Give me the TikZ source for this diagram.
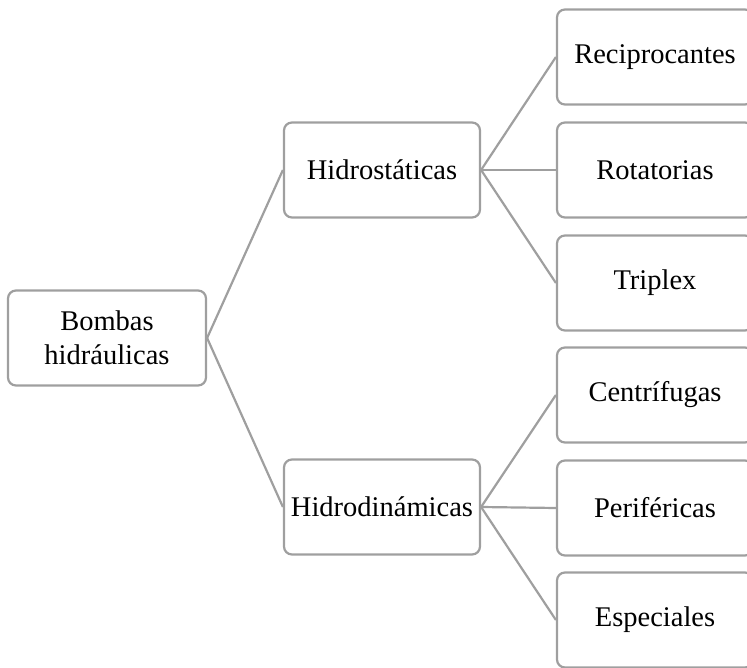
\documentclass[tikz,border=0pt]{standalone}
\usepackage{fontspec}
\setmainfont{Liberation Serif}
\usepackage{tikz}

\tikzset{
	caja/.style={draw=gray!75, line width=2.2pt, rounded corners=8pt, minimum width=196pt, minimum height=95pt, align=center, inner sep=0pt, font=\fontsize{28.5}{34}\selectfont},
	rama/.style={draw=gray!75, line width=2.2pt}
}

\begin{document}
\begin{tikzpicture}[x=1pt, y=-1pt]

	\useasboundingbox (0,0) rectangle (747,668);

	\node [caja, minimum width=198pt] (bombas) at (107,338) {Bombas\\hidráulicas};
	\node [caja] (hidrostaticas) at (382,170) {Hidrostáticas};
	\node [caja] (hidrodinamicas) at (382,507) {Hidrodinámicas};

	\node [caja] (reciprocantes) at (655,57) {Reciprocantes};
	\node [caja] (rotatorias) at (655,170) {Rotatorias};
	\node [caja] (triplex) at (655,283) {Triplex};
	\node [caja] (centrifugas) at (655,395) {Centrífugas};
	\node [caja] (perifericas) at (655,508) {Periféricas};
	\node [caja] (especiales) at (655,620) {Especiales};

	\draw [rama] (bombas.east) -- (hidrostaticas.west);
	\draw [rama] (bombas.east) -- (hidrodinamicas.west);
	\draw [rama] (hidrostaticas.east) -- (reciprocantes.west);
	\draw [rama] (hidrostaticas.east) -- (rotatorias.west);
	\draw [rama] (hidrostaticas.east) -- (triplex.west);
	\draw [rama] (hidrodinamicas.east) -- (centrifugas.west);
	\draw [rama] (hidrodinamicas.east) -- (perifericas.west);
	\draw [rama] (hidrodinamicas.east) -- (especiales.west);

\end{tikzpicture}
\end{document}
